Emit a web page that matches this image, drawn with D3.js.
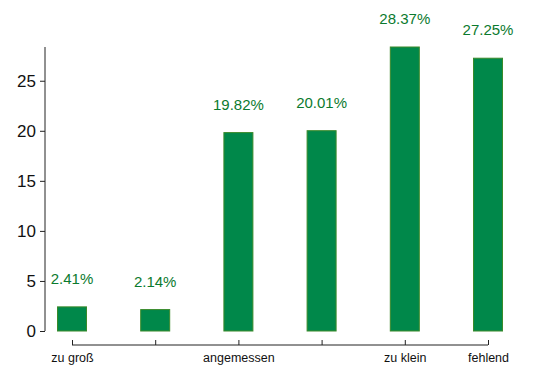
<!DOCTYPE html>
<html><head><meta charset="utf-8">
<script src="https://cdn.jsdelivr.net/npm/d3@7"></script>
<style>
body{margin:0;background:#fff;}
svg{display:block;font-family:"Liberation Sans",Arial,Helvetica,sans-serif;}
</style></head>
<body><svg id="c" width="535" height="381"></svg>
<script>
const categories = ["zu groß", "", "angemessen", "", "zu klein", "fehlend"];
const values = [2.41, 2.14, 19.82, 20.01, 28.37, 27.25];
const valueLabels = ["2.41%", "2.14%", "19.82%", "20.01%", "28.37%", "27.25%"];
const yTicks = [0, 5, 10, 15, 20, 25];

const svg = d3.select("#c");
const idx = d3.range(categories.length);
const x = d3.scaleLinear().domain([0, categories.length - 1]).range([72, 488]);
const y = d3.scaleLinear().domain([0, 28.37]).range([331, 47]);
const barW = 29;

// y axis
const yAxis = svg.append("g").attr("transform", "translate(45,0)")
  .call(d3.axisLeft(y).tickValues(yTicks).tickSize(5).tickPadding(4).tickFormat(d3.format("d")));
yAxis.select(".domain").attr("d", `M0,${y(28.37)}V${y(0)}`).attr("stroke", "#222");
yAxis.selectAll(".tick line").attr("stroke", "#222");
yAxis.selectAll(".tick text").attr("font-size", 17).attr("fill", "#111")
  .attr("font-family", "Liberation Sans, Arial, sans-serif");

// x axis
const xAxis = svg.append("g").attr("transform", "translate(0,345)")
  .call(d3.axisBottom(x).tickValues(idx).tickSize(-5).tickPadding(8).tickFormat(i => categories[i]));
xAxis.select(".domain").attr("d", `M${x(0)},0H${x(categories.length - 1)}`).attr("stroke", "#222");
xAxis.selectAll(".tick line").attr("stroke", "#222");
xAxis.selectAll(".tick text").attr("font-size", 12.5).attr("fill", "#111")
  .attr("font-family", "Liberation Sans, Arial, sans-serif");

// bars
svg.append("g").selectAll("rect").data(idx).join("rect")
  .attr("x", i => x(i) - barW / 2)
  .attr("y", i => y(values[i]))
  .attr("width", barW)
  .attr("height", i => y(0) - y(values[i]))
  .attr("fill", "#00884a")
  .attr("stroke", "#3a8a2a")
  .attr("stroke-width", 1);

// value labels
svg.append("g").selectAll("text").data(idx).join("text")
  .attr("x", i => x(i))
  .attr("y", i => y(values[i]) - 23)
  .attr("text-anchor", "middle")
  .attr("font-size", 15)
  .attr("fill", "#0b7a2e")
  .text(i => valueLabels[i]);
</script></body></html>
